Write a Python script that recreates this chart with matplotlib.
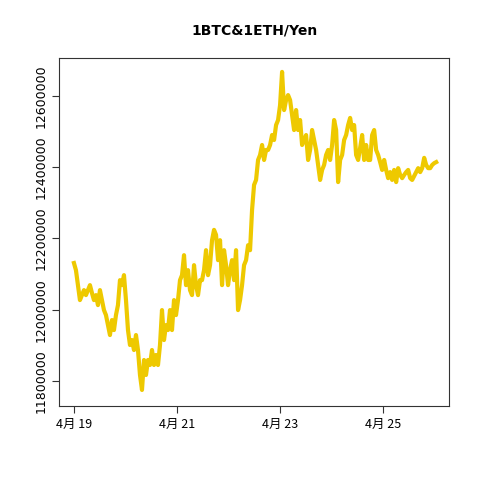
import pandas as pd
import matplotlib
matplotlib.use("Agg")
import matplotlib.pyplot as plt
import matplotlib.dates as mdates

plt.rcParams["font.family"] = ["Noto Sans CJK JP", "DejaVu Sans"]

# price of 1BTC + 1ETH in thousand yen, sampled roughly hourly
values_k = [
    12131, 12111, 12069, 12027, 12041, 12055, 12041, 12055, 12069, 12047,
    12027, 12041, 12013, 12055, 12027, 11999, 11985, 11957, 11929, 11971,
    11943, 11985, 12013, 12083, 12069, 12097, 12027, 11943, 11901, 11915,
    11887, 11929, 11887, 11817, 11775, 11859, 11817, 11859, 11845, 11887,
    11845, 11873, 11845, 11901, 11999, 11915, 11957, 11943, 11999, 11943,
    12027, 11985, 12027, 12083, 12097, 12153, 12069, 12111, 12055, 12041,
    12125, 12069, 12041, 12083, 12083, 12111, 12167, 12097, 12125, 12195,
    12224, 12210, 12139, 12195, 12069, 12167, 12125, 12069, 12111, 12139,
    12083, 12167, 11999, 12027, 12069, 12125, 12139, 12181, 12167, 12280,
    12350, 12364, 12420, 12434, 12462, 12420, 12448, 12448, 12462, 12490,
    12476, 12518, 12532, 12574, 12667, 12560, 12588, 12602, 12588, 12546,
    12504, 12560, 12504, 12532, 12462, 12476, 12490, 12420, 12448, 12504,
    12476, 12448, 12406, 12364, 12392, 12406, 12434, 12448, 12420, 12462,
    12532, 12504, 12358, 12420, 12434, 12476, 12490, 12518, 12538, 12504,
    12518, 12434, 12420, 12454, 12490, 12420, 12462, 12420, 12420, 12490,
    12504, 12448, 12434, 12414, 12392, 12420, 12392, 12369, 12386, 12364,
    12392, 12358, 12397, 12378, 12369, 12378, 12386, 12392, 12369, 12364,
    12375, 12386, 12397, 12386, 12397, 12426, 12406, 12397, 12397, 12406,
    12411, 12414,
]
start = "2021-04-19 00:00"
end = "2021-04-26 00:45"
times = pd.date_range(start, end, periods=len(values_k))
values = [v * 1000 for v in values_k]

fig = plt.figure(figsize=(4.8, 4.8), dpi=100)
ax = fig.add_axes([59 / 480, 1 - 406 / 480, 390 / 480, 348 / 480])
ax.plot(times, values, color="#EEC900", lw=3)

t0 = pd.Timestamp("2021-04-19")
ax.set_xlim(t0 - pd.Timedelta(days=0.29), t0 + pd.Timedelta(days=7.28))
ax.set_ylim(11730000, 12706000)

ticks = [t0 + pd.Timedelta(days=d) for d in (0, 2, 4, 6)]
ax.set_xticks(ticks)
ax.set_xticklabels(["4月 19", "4月 21", "4月 23", "4月 25"], fontsize=9)
yt = [11800000, 12000000, 12200000, 12400000, 12600000]
ax.set_yticks(yt)
ax.set_yticklabels([str(v) for v in yt], rotation=90, va="center", fontsize=9,
                   family=["DejaVu Sans"])
ax.tick_params(length=5, color="#333333")
for s in ax.spines.values():
    s.set_color("#333333")

fig.text(0.53, 1 - 30 / 480, "1BTC&1ETH/Yen", ha="center", va="center",
         fontsize=10, fontweight="bold", family=["DejaVu Sans"])

fig.savefig("out.png", dpi=100)
